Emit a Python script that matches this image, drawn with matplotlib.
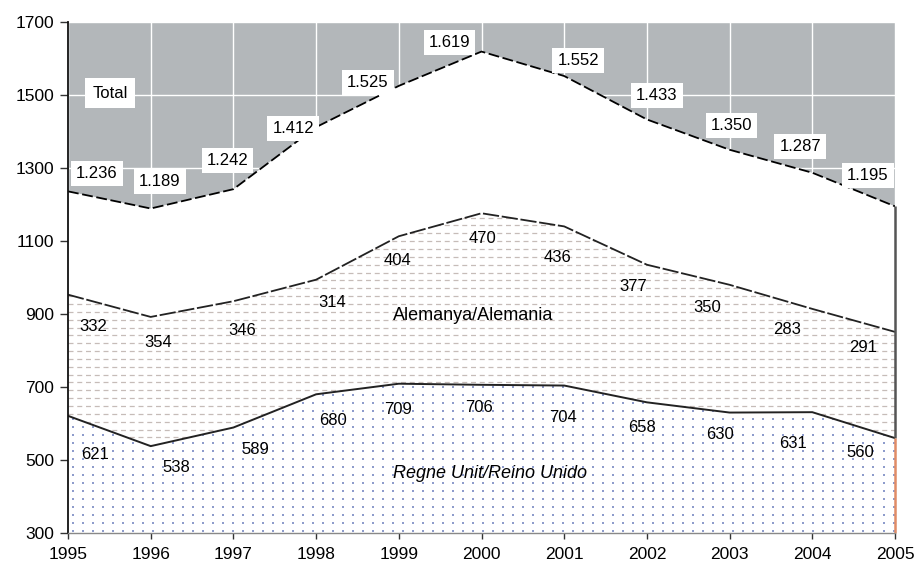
#!/usr/bin/env python3
"""Stacked area chart: total, Germany and United Kingdom, 1995-2005."""

import numpy as np
import matplotlib
matplotlib.use("Agg")
import matplotlib.pyplot as plt

# Data
years = [1995, 1996, 1997, 1998, 1999, 2000, 2001, 2002, 2003, 2004, 2005]
total = [1236, 1189, 1242, 1412, 1525, 1619, 1552, 1433, 1350, 1287, 1195]
germany = [332, 354, 346, 314, 404, 470, 436, 377, 350, 283, 291]
uk = [621, 538, 589, 680, 709, 706, 704, 658, 630, 631, 560]
y_ticks = [300, 500, 700, 900, 1100, 1300, 1500, 1700]

# Label offsets in pixels from the point they describe (dx, dy)
total_offsets = [(29, 18), (9, 27), (-6, 29), (-23, -1), (-31, 3), (-32, 9),
                 (14, 16), (10, 24), (2, 24), (-12, 26), (-27, 31)]
germany_offsets = [(25, -32), (7, -26), (9, -29), (16, -23), (-1, -24), (1, -25),
                   (-7, -31), (-14, -22), (-22, -23), (-25, -21), (-32, -16)]
uk_offsets = [(27, -39), (26, -21), (22, -22), (17, -26), (-1, -26), (-3, -23),
              (-1, -32), (-5, -25), (-10, -22), (-19, -31), (-35, -14)]

BG_GREY = "#b3b7ba"
DASH_COLOR = "#c6bcb8"
DOT_COLOR = "#8e9ccc"

plt.rcParams["font.family"] = ["Liberation Sans", "DejaVu Sans"]


def thousands(v):
    return f"{v:,}".replace(",", ".")


x = np.array(years)
uk_arr = np.array(uk)
de_top = uk_arr + np.array(germany)
tot = np.array(total)

fig = plt.figure(figsize=(9.17, 5.72), dpi=100)
ax = fig.add_axes([68 / 917, 1 - 533 / 572, (895 - 68) / 917, (533 - 22) / 572])
ax.set_facecolor(BG_GREY)
ax.set_axisbelow(True)
ax.grid(True, color="white", linewidth=1.0)

# White area below the total
ax.fill_between(x, 0, tot, facecolor="white", linewidth=0, zorder=1)

# Germany band with dashed horizontal rows
de_poly = ax.fill_between(x, uk_arr, de_top, facecolor="white", linewidth=0, zorder=2)
rows = ax.hlines(np.arange(304, 1700, 21.5), 1995, 2005, colors=DASH_COLOR,
                 linestyles=(0, (4, 3)), linewidth=0.9, zorder=2.5)
rows.set_clip_path(de_poly.get_paths()[0], transform=ax.transData)

# UK band with a grid of small dots
uk_poly = ax.fill_between(x, 0, uk_arr, facecolor="white", linewidth=0, zorder=3)
gx, gy = np.meshgrid(np.arange(1995.06, 2005, 0.121), np.arange(305, 760, 22))
dots = ax.scatter(gx.ravel(), gy.ravel(), s=1.6, marker="s", color=DOT_COLOR,
                  linewidths=0, zorder=3.5)
dots.set_clip_path(uk_poly.get_paths()[0], transform=ax.transData)

# Boundary lines
ax.plot(x, tot, color="black", linewidth=1.3, linestyle=(0, (6, 2)), zorder=5)
ax.plot(x, de_top, color="#222222", linewidth=1.3, linestyle=(0, (9, 1.5)), zorder=5)
ax.plot(x, uk_arr, color="#222222", linewidth=1.4, zorder=5)

# Right edge of the stack
ax.vlines(years[-1], uk[-1], total[-1], colors="#555555", linewidth=1.8,
          zorder=6, clip_on=False)
ax.vlines(years[-1], 300, uk[-1], colors="#e08c66", linewidth=1.8,
          zorder=6, clip_on=False)

# Value labels
for xi, v, off in zip(years, total, total_offsets):
    ax.annotate(thousands(v), (xi, v), xytext=off, textcoords="offset pixels",
                ha="center", va="center", fontsize=12, zorder=8,
                bbox=dict(boxstyle="square,pad=0.3", facecolor="white", edgecolor="none"))
for xi, v, top, off in zip(years, germany, de_top, germany_offsets):
    ax.annotate(str(v), (xi, top), xytext=off, textcoords="offset pixels",
                ha="center", va="center", fontsize=12, zorder=8)
for xi, v, off in zip(years, uk, uk_offsets):
    ax.annotate(str(v), (xi, v), xytext=off, textcoords="offset pixels",
                ha="center", va="center", fontsize=12, zorder=8)

# Series names
ax.text(1995.51, 1505, "Total", ha="center", va="center", fontsize=12, zorder=8,
        bbox=dict(boxstyle="square,pad=0.45", facecolor="white", edgecolor="none"))
ax.text(1999.9, 897, "Alemanya/Alemania", ha="center", va="center", fontsize=13, zorder=8)
ax.text(2000.1, 464, "Regne Unit/Reino Unido", ha="center", va="center", fontsize=13,
        style="italic", zorder=8)

# Axes
ax.set_xlim(1995, 2005)
ax.set_ylim(300, 1700)
ax.set_xticks(years)
ax.set_yticks(y_ticks)
ax.tick_params(axis="x", length=4, width=1, color="#333333", pad=6, labelsize=12.5)
ax.tick_params(axis="y", length=6, width=1, color="#333333", pad=4, labelsize=12.5)
for side in ("top", "right"):
    ax.spines[side].set_visible(False)
ax.spines["left"].set_color("#111111")
ax.spines["left"].set_linewidth(1.3)
ax.spines["left"].set_zorder(7)
ax.spines["bottom"].set_color("#888888")
ax.spines["bottom"].set_linewidth(1.0)
ax.spines["bottom"].set_zorder(7)

fig.savefig("out.png", dpi=100)
